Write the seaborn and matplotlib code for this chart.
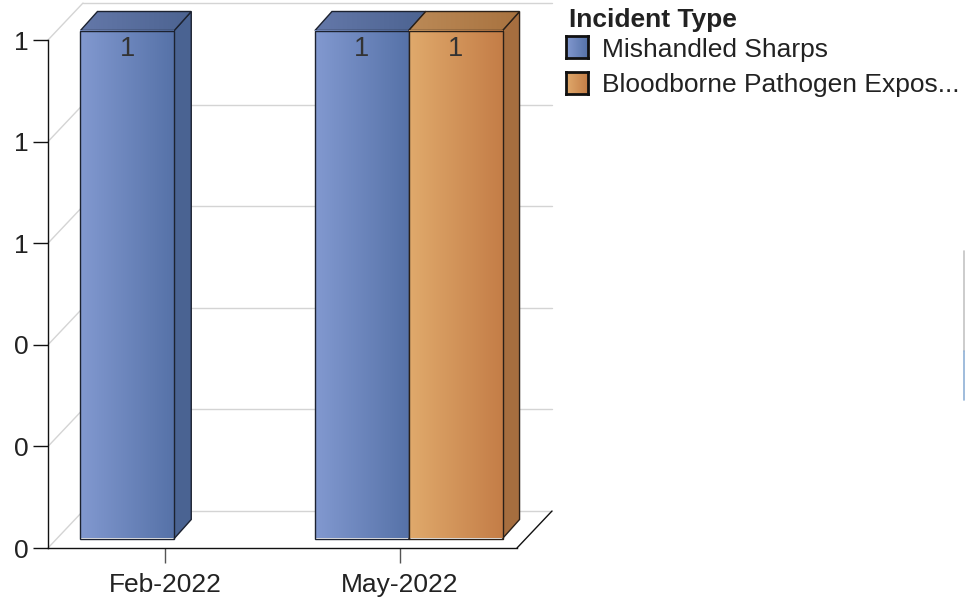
import numpy as np
import pandas as pd
import matplotlib
matplotlib.use("Agg")
import matplotlib.pyplot as plt
import seaborn as sns
from matplotlib.patches import Polygon
from matplotlib.lines import Line2D
from matplotlib.colors import LinearSegmentedColormap
from matplotlib.ticker import FuncFormatter

# ---- data -------------------------------------------------------------
months = ["Feb-2022", "May-2022", "May-2022"]
incident_types = ["Mishandled Sharps", "Mishandled Sharps", "Bloodborne Pathogen Expos..."]
counts = [1, 1, 1]
month_order = ["Feb-2022", "May-2022"]
type_order = ["Mishandled Sharps", "Bloodborne Pathogen Expos..."]
y_ticks = [0, 0.2, 0.4, 0.6, 0.8, 1.0]
legend_title = "Incident Type"

# ---- style ------------------------------------------------------------
sns.set_style("white")
plt.rcParams["font.family"] = ["Liberation Sans", "DejaVu Sans"]

# per series: front-left, front-right, top-left, top-right, side, edge
shades = {
    "Mishandled Sharps": ("#8299d0", "#5672a8", "#6478a9", "#4c6391", "#4a6392", "#1c2230"),
    "Bloodborne Pathogen Expos...": ("#e0aa6c", "#c47d47", "#bb8a57", "#a8723f", "#a66e3f", "#2a2018"),
}
palette = {k: v[1] for k, v in shades.items()}

W, H = 965, 604
fig = plt.figure(figsize=(W / 100, H / 100), dpi=100)
# front plane of the plot box, in pixels: x 48..517, y 40..548
ax = fig.add_axes([48 / W, (H - 548) / H, 469 / W, 508 / H])

df = pd.DataFrame({"Month": months, "Incident Type": incident_types, "Count": counts})
sns.barplot(data=df, x="Month", y="Count", hue="Incident Type",
            order=month_order, hue_order=type_order, palette=palette,
            width=0.8, saturation=1, errorbar=None, legend=False, ax=ax)

XLIM, YLIM = (-0.5, 1.5), (0, 1)
ax.set_xlim(*XLIM)
ax.set_ylim(*YLIM)

# pixel -> data conversion for the oblique (3D) offsets
kx = (XLIM[1] - XLIM[0]) / 469
ky = (YLIM[1] - YLIM[0]) / 508
DX, DY = 35 * kx, 37 * ky        # depth of the whole plot box
SX, SY = 9 * kx, 9.5 * ky        # bars sit in the middle of the depth
BX, BY = 17 * kx, 19 * ky        # depth of one bar

grid_col = "#d4d4d4"
# back wall grid lines and their oblique connectors to the y axis
for v in y_ticks:
    ax.plot([XLIM[0] + DX, XLIM[1] + DX], [v + DY, v + DY], color=grid_col,
            lw=1, clip_on=False, zorder=0.5)
    ax.plot([XLIM[0], XLIM[0] + DX], [v, v + DY], color=grid_col,
            lw=1, clip_on=False, zorder=0.5)
# right edge of the floor
ax.plot([XLIM[1], XLIM[1] + DX], [0, DY], color="#111111", lw=1, clip_on=False, zorder=0.6)

grad = np.linspace(0, 1, 256).reshape(1, -1)


def gradient_fill(poly, extent, c0, c1, z):
    cmap = LinearSegmentedColormap.from_list("g", [c0, c1])
    im = ax.imshow(grad, extent=extent, cmap=cmap, aspect="auto",
                   interpolation="bilinear", zorder=z, origin="lower")
    im.set_clip_path(poly)
    im.set_clip_box(fig.bbox)
    return im


# collect the bars seaborn drew, with their series
bars = []
for name, cont in zip(type_order, ax.containers):
    for rect in cont:
        if np.isfinite(rect.get_height()) and rect.get_height() > 0:
            bars.append((rect.get_x(), name, rect))
bars.sort(key=lambda t: t[0])

for k, (_, name, rect) in enumerate(bars):
    fl, fr, tl, tr, side, edge = shades[name]
    w, h = rect.get_width(), rect.get_height()
    x0 = rect.get_x() + SX
    y0 = rect.get_y() + SY
    x1, y1 = x0 + w, y0 + h
    z = 3 + k

    side_poly = Polygon([(x1, y0), (x1 + BX, y0 + BY), (x1 + BX, y1 + BY), (x1, y1)],
                        closed=True, facecolor=side, edgecolor=edge, lw=1,
                        clip_on=False, zorder=z)
    ax.add_patch(side_poly)

    top_poly = Polygon([(x0, y1), (x1, y1), (x1 + BX, y1 + BY), (x0 + BX, y1 + BY)],
                       closed=True, facecolor="none", edgecolor=edge, lw=1,
                       clip_on=False, zorder=z + 0.2)
    ax.add_patch(top_poly)
    gradient_fill(top_poly, [x0, x1 + BX, y1, y1 + BY], tl, tr, z + 0.1)

    # front face: move seaborn's bar into the middle depth plane
    rect.set_x(x0)
    rect.set_y(y0)
    rect.set_facecolor("none")
    rect.set_edgecolor(edge)
    rect.set_linewidth(1)
    rect.set_clip_on(False)
    rect.set_zorder(z + 0.4)
    gradient_fill(rect, [x0, x1, y0, y1], fl, fr, z + 0.3)

    ax.text((x0 + x1) / 2, y1 - 6 * ky, f"{h:.0f}", ha="center", va="top",
            fontsize=19.5, color="#333333", zorder=z + 0.5, clip_on=False)

ax.set_xlim(*XLIM)
ax.set_ylim(*YLIM)

# axes, ticks and labels
ax.set_xlabel("")
ax.set_ylabel("")
ax.set_yticks(y_ticks)
ax.yaxis.set_major_formatter(FuncFormatter(lambda v, _: f"{v:.0f}"))
for s in ("top", "right"):
    ax.spines[s].set_visible(False)
for s in ("left", "bottom"):
    ax.spines[s].set_color("#111111")
    ax.spines[s].set_linewidth(1)
    ax.spines[s].set_zorder(0.7)
ax.tick_params(axis="y", left=True, length=10.8, width=1, color="#111111",
               pad=3, labelsize=19, labelcolor="#222222")
ax.tick_params(axis="x", bottom=True, length=10.8, width=1, color="#555555",
               pad=7, labelsize=19, labelcolor="#222222")
ax.set_facecolor("none")
ax.patch.set_visible(False)

# legend
fig.text(569 / W, 1 - 27 / H, legend_title, fontsize=19, fontweight="bold",
         color="#222222", ha="left", va="baseline")
legend_rows = [(36, 57), (72, 92)]
for name, (top_px, base_px) in zip(type_order, legend_rows):
    fl, fr, tl, tr, side, edge = shades[name]
    sw = fig.add_axes([566 / W, 1 - (top_px + 22) / H, 22 / W, 22 / H])
    sw.imshow(grad, cmap=LinearSegmentedColormap.from_list("s", [fl, fr]),
              aspect="auto", extent=[0, 1, 0, 1])
    sw.set_xticks([])
    sw.set_yticks([])
    for sp in sw.spines.values():
        sp.set_visible(True)
        sp.set_color("#111111")
        sp.set_linewidth(2)
    fig.text(602 / W, 1 - base_px / H, name, fontsize=19, color="#222222",
             ha="left", va="baseline")

# thin scroll indicator at the right edge
fig.add_artist(Line2D([964 / W, 964 / W], [1 - 251 / H, 1 - 351 / H],
                      transform=fig.transFigure, color="#c4c4c4", lw=1.2))
fig.add_artist(Line2D([964 / W, 964 / W], [1 - 351 / H, 1 - 400 / H],
                      transform=fig.transFigure, color="#8fb0d6", lw=1.2))

fig.savefig("out.png", dpi=100)
